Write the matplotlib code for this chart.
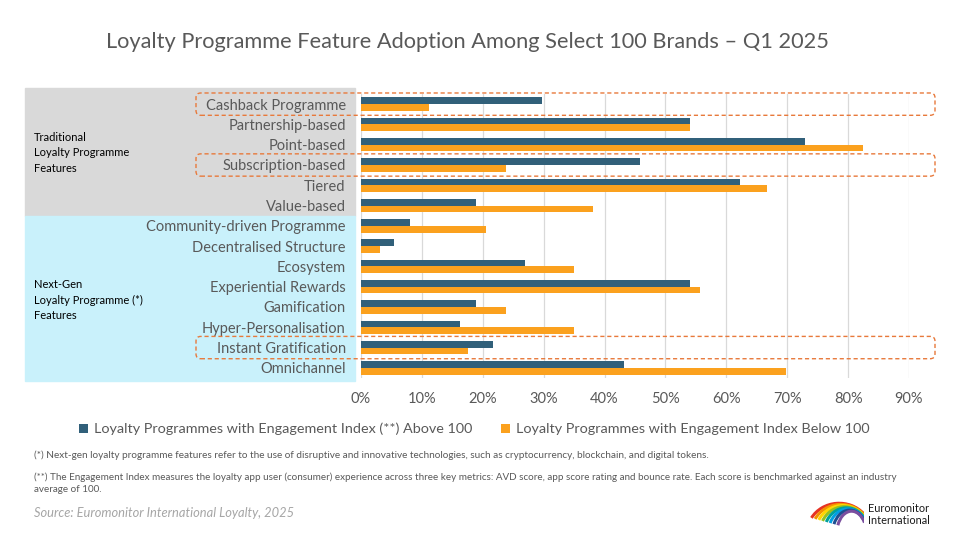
import matplotlib.pyplot as plt
import numpy as np
from matplotlib.patches import Rectangle, FancyBboxPatch, Arc

# adoption shares (%)
features = ["Cashback Programme", "Partnership-based", "Point-based", "Subscription-based",
            "Tiered", "Value-based", "Community-driven Programme", "Decentralised Structure",
            "Ecosystem", "Experiential Rewards", "Gamification", "Hyper-Personalisation",
            "Instant Gratification", "Omnichannel"]
above_100 = [29.7, 54.1, 73.0, 45.9, 62.2, 18.9, 8.1, 5.4, 27.0, 54.1, 18.9, 16.2, 21.6, 43.2]
below_100 = [11.1, 54.0, 82.5, 23.8, 66.7, 38.1, 20.6, 3.2, 34.9, 55.6, 23.8, 34.9, 17.5, 69.8]
n_traditional = 6
highlighted = ["Cashback Programme", "Subscription-based", "Instant Gratification"]
x_ticks = [0, 10, 20, 30, 40, 50, 60, 70, 80, 90]

series_names = ["Loyalty Programmes with Engagement Index (**) Above 100",
                "Loyalty Programmes with Engagement Index Below 100"]
group_names = ["Traditional\nLoyalty Programme\nFeatures",
               "Next-Gen\nLoyalty Programme (*)\nFeatures"]
note_1 = ("(*) Next-gen loyalty programme features refer to the use of disruptive and "
          "innovative technologies, such as cryptocurrency, blockchain, and digital tokens.")
note_2a = ("(**) The Engagement Index measures the loyalty app user (consumer) experience "
           "across three key metrics: AVD score, app score rating and bounce rate. Each score is "
           "benchmarked against an industry")
note_2b = "average of 100."

DARK = "#31607a"
ORANGE = "#fba11e"
GREY_TXT = "#595959"
FONT = "Lato"

plt.rcParams['font.family'] = [FONT, 'DejaVu Sans']

W, H = 960, 540
fig = plt.figure(figsize=(W / 100, H / 100), dpi=100)
renderer = fig.canvas.get_renderer()

def fx(px):
    return px / W

def fy(py):
    return 1 - py / H

def fit_width(t, target_px):
    # scale a text's font so it spans about target_px pixels
    for _ in range(3):
        w = t.get_window_extent(renderer).width
        t.set_fontsize(t.get_fontsize() * target_px / w)

ax = fig.add_axes([fx(361), fy(378), fx(909) - fx(361), (378 - 94) / H])
ax.set_facecolor("none")

y = np.arange(len(features))
bh = 0.33
ax.barh(y - bh / 2, above_100, height=bh, color=DARK, label=series_names[0], zorder=3)
ax.barh(y + bh / 2, below_100, height=bh, color=ORANGE, label=series_names[1], zorder=3)

ax.set_xlim(0, 90)
ax.set_ylim(len(features) - 0.5, -0.5)
ax.set_xticks(x_ticks)
ax.set_xticklabels([f"{t}%" for t in x_ticks])
ax.set_yticks(y)
ax.set_yticklabels(features)
ax.tick_params(axis='x', length=0, pad=10, labelsize=10.5, labelcolor=GREY_TXT)
ax.tick_params(axis='y', length=0, pad=11, labelsize=10.5, labelcolor=GREY_TXT)
ax.grid(axis='x', color="#d9d9d9", linewidth=0.9, zorder=0)
for s in ax.spines.values():
    s.set_visible(False)

# group background panels (figure coordinates, split taken from the data rows)
to_fig = ax.transData + fig.transFigure.inverted()
split_y = to_fig.transform((0, n_traditional - 0.5))[1]
top_y = fy(88)
bot_y = fy(381)
fig.patches.append(Rectangle((fx(25), split_y), fx(355) - fx(25), top_y - split_y,
                             transform=fig.transFigure, color="#d9d9d9", zorder=-2))
fig.patches.append(Rectangle((fx(25), bot_y), fx(355) - fx(25), split_y - bot_y,
                             transform=fig.transFigure, color="#c9f1fb", zorder=-2))

fig.text(fx(34), fy(153), group_names[0], ha='left', va='center',
         fontsize=8, linespacing=1.55, color="black")
fig.text(fx(34), fy(300), group_names[1], ha='left', va='center',
         fontsize=8, linespacing=1.55, color="black")

# dashed highlight boxes around selected features
for name in highlighted:
    i = features.index(name)
    y0 = to_fig.transform((0, i + 0.55))[1]
    y1 = to_fig.transform((0, i - 0.55))[1]
    box = FancyBboxPatch((fx(196), y0), fx(935) - fx(196), y1 - y0,
                         boxstyle="round,pad=0,rounding_size=0.005",
                         mutation_aspect=W / H, transform=fig.transFigure,
                         facecolor="none", edgecolor="#e8793b", linewidth=1.0,
                         linestyle=(0, (3, 2)), zorder=5)
    fig.patches.append(box)

title = fig.text(fx(467.5), fy(42),
                 "Loyalty Programme Feature Adoption Among Select 100 Brands \u2013 Q1 2025",
                 ha='center', va='center', fontsize=15.7, color=GREY_TXT)
fit_width(title, 721)

leg = fig.legend(loc='center', bbox_to_anchor=(0.494, fy(429)), ncol=2, frameon=False,
                 fontsize=10.4, handlelength=0.6, handleheight=0.6, handletextpad=0.4,
                 columnspacing=2.0, labelcolor=GREY_TXT)

t1 = fig.text(fx(34), fy(455), note_1, ha='left', va='center', fontsize=6.6, color=GREY_TXT)
fit_width(t1, 670)
t2 = fig.text(fx(34), fy(477), note_2a, ha='left', va='center', fontsize=7.2, color=GREY_TXT)
fit_width(t2, 866)
fig.text(fx(34), fy(490), note_2b, ha='left', va='center', fontsize=t2.get_fontsize(),
         color=GREY_TXT)
src = fig.text(fx(34), fy(513), "Source: Euromonitor International Loyalty, 2025", ha='left',
               va='center', fontsize=8, style='italic', color="#a6a6a6")
fit_width(src, 261)

# rough logo
lax = fig.add_axes([fx(793), fy(526), fx(864) - fx(793), (526 - 500) / H])
lax.set_xlim(0, 10)
lax.set_ylim(0, 4)
lax.axis('off')
logo_colors = ["#e63323", "#f39200", "#ffd500", "#95c11f", "#00a19a", "#009fe3", "#1d4f91", "#7a4f9f"]
for k, c in enumerate(logo_colors):
    lax.add_patch(Arc((6.5 + k * 0.25, -1.0), 9 - k * 0.7, 9 - k * 0.35, theta1=40, theta2=150,
                      color=c, linewidth=2.2))
brand_1 = fig.text(fx(868), fy(509), "Euromonitor", ha='left', va='center', fontsize=8.8,
                   color="#1a1a1a")
fit_width(brand_1, 61)
fig.text(fx(868), fy(521), "International", ha='left', va='center',
         fontsize=brand_1.get_fontsize(), color="#1a1a1a")

fig.savefig("out.png", dpi=100)
